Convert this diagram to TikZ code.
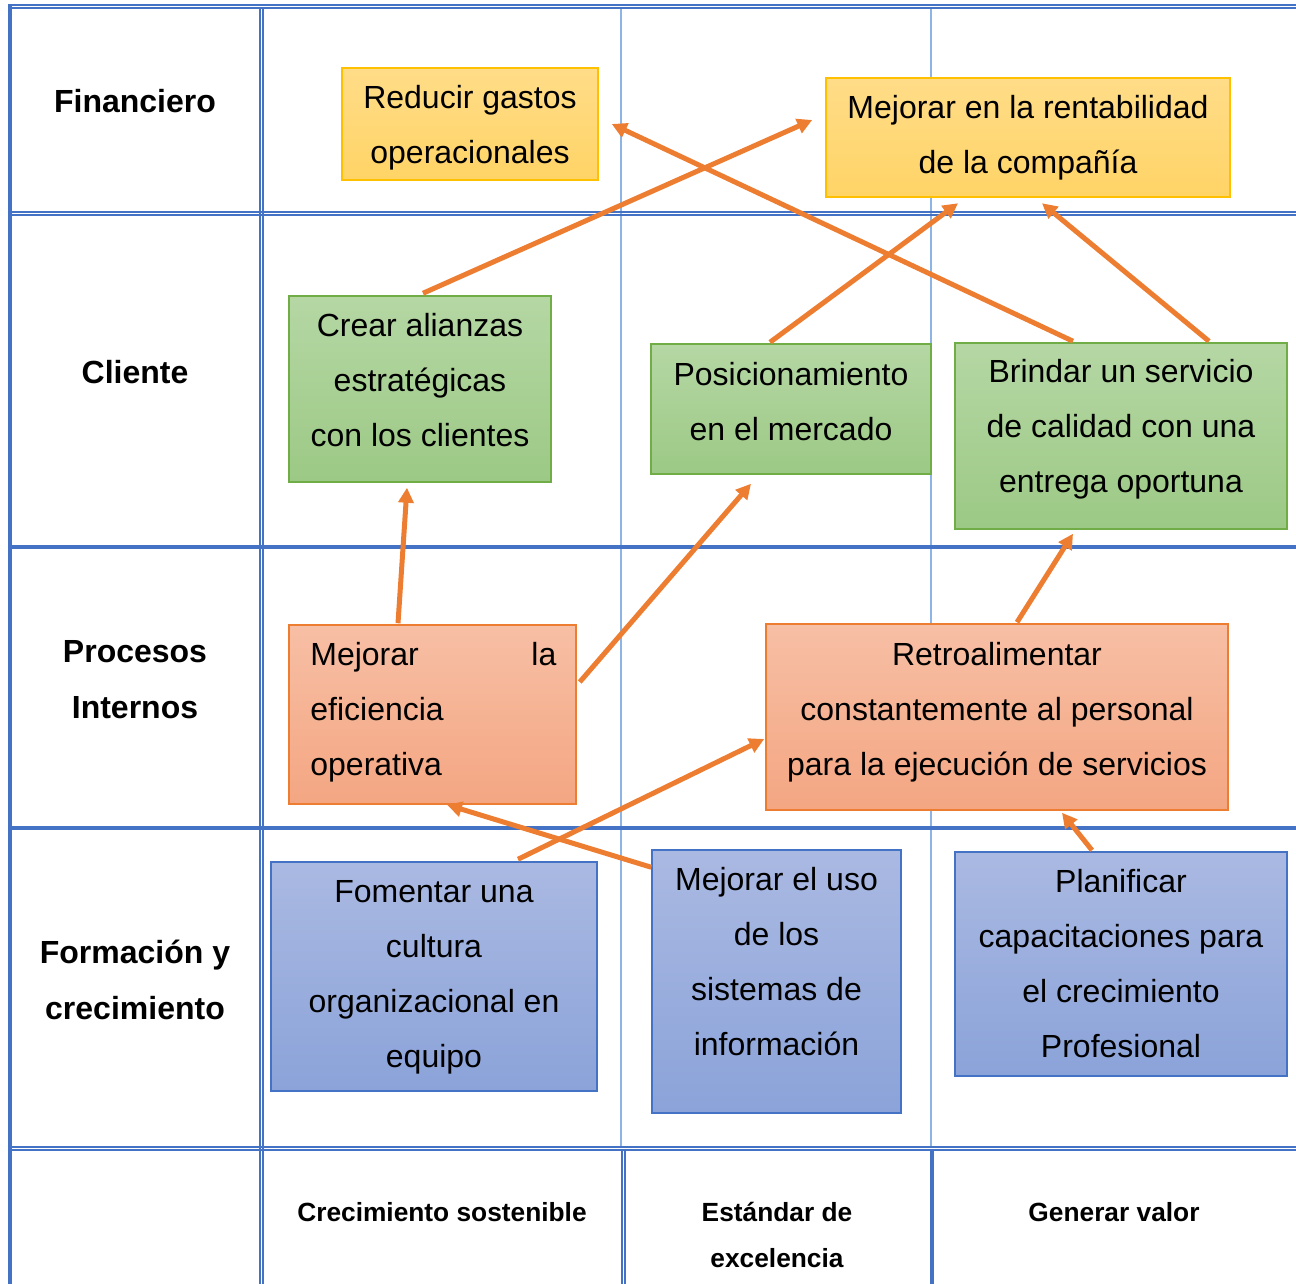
\documentclass[tikz,border=0pt]{standalone}
\usepackage{fontspec}
\setmainfont{Liberation Sans}
\usetikzlibrary{calc,arrows.meta}

\definecolor{gridblue}{HTML}{4472C4}
\definecolor{thinblue}{HTML}{8EB4E3}
\definecolor{arroworange}{HTML}{ED7D31}
\definecolor{goldtop}{HTML}{FFDC88}
\definecolor{goldbot}{HTML}{FFD466}
\definecolor{goldline}{HTML}{FFC000}
\definecolor{greentop}{HTML}{B5D7A4}
\definecolor{greenbot}{HTML}{9CC985}
\definecolor{greenline}{HTML}{70AD47}
\definecolor{salmontop}{HTML}{F7BFA5}
\definecolor{salmonbot}{HTML}{F4A682}
\definecolor{salmonline}{HTML}{ED7D31}
\definecolor{bluetop}{HTML}{AAB9E2}
\definecolor{bluebot}{HTML}{8BA3D9}
\definecolor{blueline}{HTML}{4472C4}

\tikzset{
  sz/.style 2 args={minimum width=#1*0.5pt, minimum height=#2*0.5pt},
  goalbox/.style={rectangle, inner sep=0pt, line width=0.75pt},
  goldbox/.style={goalbox, draw=goldline, top color=goldtop, bottom color=goldbot},
  greenbox/.style={goalbox, draw=greenline, top color=greentop, bottom color=greenbot},
  salmonbox/.style={goalbox, draw=salmonline, top color=salmontop, bottom color=salmonbot},
  bluebox/.style={goalbox, draw=blueline, top color=bluetop, bottom color=bluebot},
  boxtext/.style={inner sep=0pt, align=center, font=\fontsize{16}{27.5}\selectfont},
  rowlabel/.style={inner sep=0pt, align=center, font=\fontsize{16}{28}\selectfont\bfseries},
  collabel/.style={inner sep=0pt, align=center, font=\fontsize{13.15}{23}\selectfont\bfseries},
  dbl/.style={gridblue, line width=0.85pt},
  thick grid/.style={gridblue, line width=2pt},
  thin grid/.style={thinblue, line width=1pt},
  link/.style={arroworange, line width=2.5pt, -{Triangle[length=7.5pt,width=7.5pt]}},
}

\begin{document}
\begin{tikzpicture}[x=0.5pt, y=-0.5pt]
\useasboundingbox (0,0) rectangle (1296,1284);

% ---- table grid ----
% thin column guides inside the upper rows
\draw[thin grid] (621,9) -- (621,1146);
\draw[thin grid] (931,9) -- (931,1146);
% top border (double)
\draw[dbl] (8,4.9) -- (1296,4.9);
\draw[dbl] (10,7.9) -- (1296,7.9);
% left border
\draw[thick grid] (10,4) -- (10,1284);
% first column separator (double)
\draw[dbl] (259.8,8) -- (259.8,1284);
\draw[dbl] (262.8,8) -- (262.8,1284);
% row separators
\draw[dbl] (10,211.8) -- (1296,211.8);
\draw[dbl] (10,215.1) -- (1296,215.1);
\draw[thick grid] (10,547) -- (1296,547);
\draw[thick grid] (10,828) -- (1296,828);
\draw[dbl] (10,1146.8) -- (1296,1146.8);
\draw[dbl] (10,1150.2) -- (1296,1150.2);
% column separators of the bottom row
\draw[dbl] (622.2,1150) -- (622.2,1284);
\draw[dbl] (624.8,1150) -- (624.8,1284);
\draw[thick grid] (932,1150) -- (932,1284);

% ---- row and column headings ----
\node[rowlabel] (hfin) at (135,101) {Financiero};
\node[rowlabel] (hcli) at (135,372) {Cliente};
\node[rowlabel] (hpro) at (135,680) {Procesos\\Internos};
\node[rowlabel] (hfor) at (135,979.5) {Formación y\\crecimiento};
\node[collabel] (ccre) at (442,1212) {Crecimiento sostenible};
\node[collabel] (cest) at (777,1235) {Estándar de\\excelencia};
\node[collabel] (cgen) at (1114,1212) {Generar valor};

% ---- objective boxes ----
\node[goldbox, sz={256}{112}] (reducir) at (470,124) {};
\node[boxtext] (reducir-t) at (470,128) {Reducir gastos\\operacionales};

\node[goldbox, sz={404}{119}] (rentab) at (1028,137.5) {};
\node[boxtext] (rentab-t) at (1028,137.5) {Mejorar en la rentabilidad\\de la compañía};

\node[greenbox, sz={262}{186}] (crear) at (420,389) {};
\node[boxtext] (crear-t) at (420,380) {Crear alianzas\\estratégicas\\con los clientes};

\node[greenbox, sz={280}{130}] (posic) at (791,409) {};
\node[boxtext] (posic-t) at (791,401.5) {Posicionamiento\\en el mercado};

\node[greenbox, sz={332}{186}] (brindar) at (1121,436) {};
\node[boxtext] (brindar-t) at (1121,429) {Brindar un servicio\\de calidad con una\\entrega oportuna};

\node[salmonbox, sz={287}{179}] (efic) at (432.5,714.5) {};
\node[boxtext, align=left, anchor=west] (efic-t) at (310,712.5)
  {\makebox[123pt][l]{Mejorar\hfill la}\\eficiencia\\operativa};

\node[salmonbox, sz={462}{186}] (retro) at (997,717) {};
\node[boxtext] (retro-t) at (997,712)
  {Retroalimentar\\constantemente al personal\\para la ejecución de servicios};

\node[bluebox, sz={326}{229}] (foment) at (434,976.5) {};
\node[boxtext] (foment-t) at (434,977) {Fomentar una\\cultura\\organizacional en\\equipo};

\node[bluebox, sz={249}{263}] (usosis) at (776.5,981.5) {};
\node[boxtext] (usosis-t) at (776.5,962) {Mejorar el uso\\de los\\sistemas de\\información};

\node[bluebox, sz={332}{224}] (planif) at (1121,964) {};
\node[boxtext] (planif-t) at (1121,964) {Planificar\\capacitaciones para\\el crecimiento\\Profesional};

% ---- cause and effect links ----
\draw[link] ($(crear.north)+(3,-2)$) -- ($(rentab.west)+(-13,-17.5)$);
\draw[link] ($(brindar.north)+(-48,-1)$) -- ($(reducir.east)+(13,0)$);
\draw[link] ($(posic.north)+(-21,-1)$) -- ($(rentab.south)+(-70,5.5)$);
\draw[link] ($(brindar.north)+(88,-1)$) -- ($(rentab.south)+(14,5.5)$);
\draw[link] ($(efic.north)+(-34.5,-1)$) -- ($(crear.south)+(-13,5)$);
\draw[link] ($(efic.east)+(3,-32.5)$) -- ($(posic.south)+(-40,9)$);
\draw[link] ($(retro.north)+(20,-1)$) -- ($(brindar.south)+(-48,4)$);
\draw[link] ($(foment.north)+(84,-2)$) -- ($(retro.west)+(-1,22)$);
\draw[link] ($(usosis.north west)+(0,18)$) -- ($(efic.south)+(14.5,0)$);
\draw[link] ($(planif.north)+(-29,-1)$) -- ($(retro.south)+(65,2)$);
\end{tikzpicture}
\end{document}
